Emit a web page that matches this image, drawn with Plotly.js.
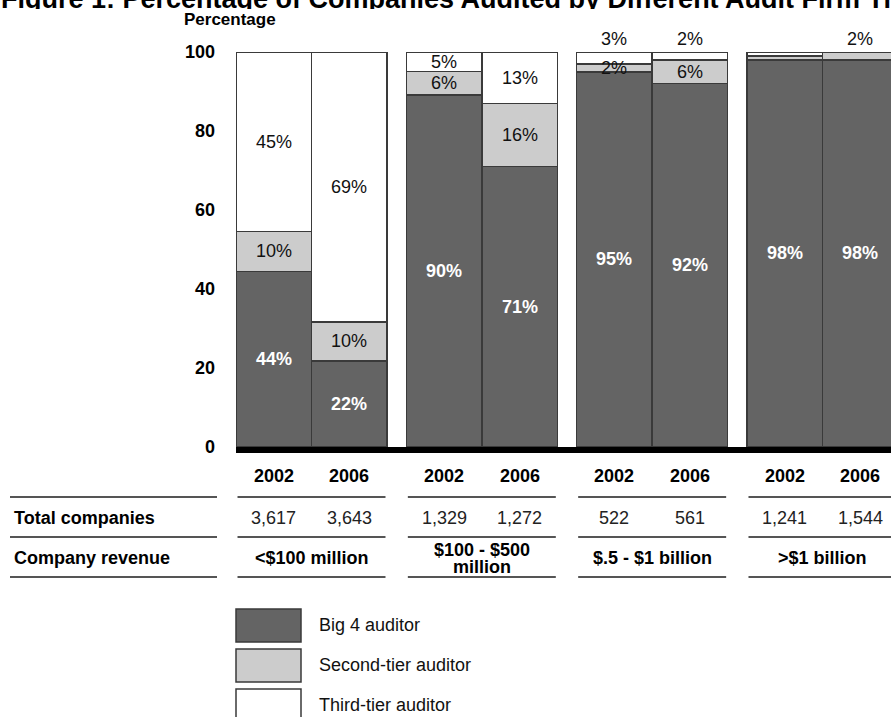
<!DOCTYPE html>
<html>
<head>
<meta charset="utf-8">
<script src="https://cdn.plot.ly/plotly-3.0.1.min.js"></script>
<style>html,body{margin:0;padding:0;background:#fff;overflow:hidden}#chart{width:891px;height:717px}</style>
</head>
<body>
<div id="chart"></div>
<script>
// ---- data ----
const groups = ["<$100 million", "$100 - $500<br>million", "$.5 - $1 billion", ">$1 billion"];
const years = ["2002", "2006"];
const totalCompanies = [3617, 3643, 1329, 1272, 522, 561, 1241, 1544];
const big4 = [44, 22, 90, 71, 95, 92, 98, 98];
const secondTier = [10, 10, 6, 16, 2, 6, 1, 2];
const thirdTier = [45, 69, 5, 13, 3, 2, 1, 0];
const seriesNames = ["Big 4 auditor", "Second-tier auditor", "Third-tier auditor"];
const yTicks = [0, 20, 40, 60, 80, 100];
const titleText = "Figure 1: Percentage of Companies Audited by Different Audit Firm Tiers";
const rowLabels = ["Total companies", "Company revenue"];

// ---- layout helpers ----
const FONT = "Liberation Sans, Arial, Helvetica, sans-serif";
const L = 236, T = 52, W = 655, H = 395, FW = 891, FH = 717;
const GAP = 0.256;
const xp = px => (px - L) / W;
const yp = py => (T + H - py) / H;
const colors = ["#646464", "#cccccc", "#ffffff"];

const xs = [];
groups.forEach((g, gi) => years.forEach((y, yi) => xs.push(gi * (2 + GAP) + yi)));

const series = [big4, secondTier, thirdTier];
const traces = series.map((vals, si) => ({
  type: "bar", x: xs, y: vals, name: seriesNames[si],
  marker: {color: colors[si], line: {color: "#3a3a3a", width: 1.5}},
  hoverinfo: "skip"
}));

const annotations = [];
const shapes = [];

// bar value labels
xs.forEach((x, i) => {
  const vals = series.map(s => s[i]);
  const total = vals.reduce((a, b) => a + b, 0);
  let cum = 0;
  let topIdx = -1;
  vals.forEach((v, si) => { if (v > 0) topIdx = si; });
  vals.forEach((v, si) => {
    const pct = v / total * 100;
    const mid = cum + pct / 2;
    cum += pct;
    if (v < 2) return;
    const font = si === 0 ? {family: FONT, size: 18, color: "#ffffff"} : {family: FONT, size: 18, color: "#111"};
    const txt = si === 0 ? "<b>" + v + "%</b>" : v + "%";
    if (v <= 3 && si === topIdx) {
      annotations.push({x: x, y: 100, xref: "x", yref: "y", text: txt, showarrow: false,
        yanchor: "bottom", yshift: 1, font: font});
    } else {
      annotations.push({x: x, y: mid, xref: "x", yref: "y", text: txt, showarrow: false,
        yanchor: "middle", font: font});
    }
  });
});

// baseline (thick black band under the bars)
shapes.push({type: "rect", xref: "paper", x0: 0, x1: 1.01, yref: "paper", ysizemode: "pixel",
  yanchor: 0, y0: -6, y1: 0, fillcolor: "#000", line: {width: 0}, layer: "above"});

// titles
annotations.push({xref: "paper", yref: "paper", x: xp(-1), y: yp(-1), xanchor: "left", yanchor: "middle", height: 20,
  text: "<b>" + titleText + "</b>", showarrow: false, font: {family: FONT, size: 27, color: "#000"}});
annotations.push({xref: "paper", yref: "paper", x: xp(182), y: yp(19), xanchor: "left", yanchor: "middle",
  text: "<b>Percentage</b>", showarrow: false, font: {family: FONT, size: 17, color: "#000"}});

// table rows
const lineYs = [497, 537, 577];
const lineStyle = {color: "#555", width: 2};
lineYs.forEach(py => {
  shapes.push({type: "line", xref: "paper", yref: "paper", x0: xp(10), x1: xp(217), y0: yp(py), y1: yp(py), line: lineStyle});
  groups.forEach((g, gi) => {
    const x0 = gi * (2 + GAP) - 0.5;
    shapes.push({type: "line", xref: "x", yref: "paper", x0: x0 + 0.02, x1: x0 + 1.98, y0: yp(py), y1: yp(py), line: lineStyle});
  });
});
annotations.push({xref: "paper", yref: "paper", x: xp(12), y: yp(518), xanchor: "left", yanchor: "middle",
  text: "<b>" + rowLabels[0] + "</b>", showarrow: false, font: {family: FONT, size: 18, color: "#000"}});
annotations.push({xref: "paper", yref: "paper", x: xp(12), y: yp(558), xanchor: "left", yanchor: "middle",
  text: "<b>" + rowLabels[1] + "</b>", showarrow: false, font: {family: FONT, size: 18, color: "#000"}});

xs.forEach((x, i) => {
  annotations.push({xref: "x", yref: "paper", x: x, y: yp(476), yanchor: "middle",
    text: "<b>" + years[i % 2] + "</b>", showarrow: false, font: {family: FONT, size: 18, color: "#000"}});
  annotations.push({xref: "x", yref: "paper", x: x, y: yp(518), yanchor: "middle",
    text: totalCompanies[i].toLocaleString("en-US"), showarrow: false, font: {family: FONT, size: 18, color: "#222"}});
});
groups.forEach((g, gi) => {
  const cx = gi * (2 + GAP) + 0.5;
  const lines = g.split("<br>");
  const step = 17;
  lines.forEach((ln, li) => {
    const py = 558 + (li - (lines.length - 1) / 2) * step;
    annotations.push({xref: "x", yref: "paper", x: cx, y: yp(py), yanchor: "middle", height: 16,
      text: "<b>" + ln + "</b>", showarrow: false, font: {family: FONT, size: 18, color: "#000"}});
  });
});

// legend
const legendTops = [609, 649, 689];
seriesNames.forEach((n, si) => {
  const t = legendTops[si];
  shapes.push({type: "rect", xref: "paper", yref: "paper", x0: xp(236), x1: xp(301), y0: yp(t), y1: yp(t + 33),
    fillcolor: colors[si], line: {color: "#3a3a3a", width: 1.5}});
  annotations.push({xref: "paper", yref: "paper", x: xp(317), y: yp(t + 16), xanchor: "left", yanchor: "middle",
    text: n, showarrow: false, font: {family: FONT, size: 18, color: "#111"}});
});

const layout = {
  width: FW, height: FH,
  margin: {l: L, r: FW - L - W, t: T, b: FH - T - H, pad: 0},
  paper_bgcolor: "#fff", plot_bgcolor: "#fff",
  barmode: "stack", barnorm: "percent", bargap: 0,
  showlegend: false, hovermode: false,
  xaxis: {range: [-0.5, -0.5 + W / 75.5], showticklabels: false, showgrid: false, zeroline: false, showline: false, ticks: "", fixedrange: true},
  yaxis: {range: [0, 100], tickvals: yTicks, ticktext: yTicks.map(v => "<b>" + v + "</b>"), showgrid: false, zeroline: false,
    showline: false, ticks: "", ticklabelstandoff: 20, tickfont: {family: FONT, size: 18, color: "#000"}, fixedrange: true},
  shapes: shapes,
  annotations: annotations
};

Plotly.newPlot("chart", traces, layout, {staticPlot: true, displayModeBar: false});
</script>
</body>
</html>
